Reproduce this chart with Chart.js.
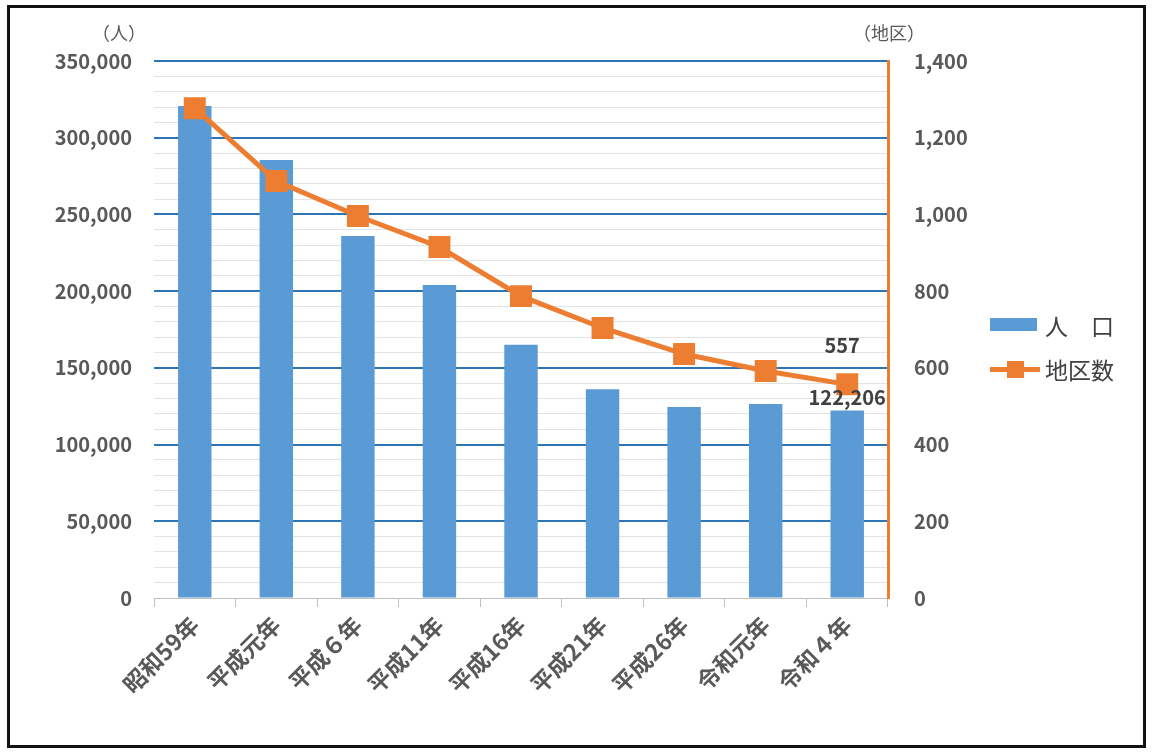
<!DOCTYPE html>
<html lang="ja">
<head>
<meta charset="utf-8">
<script src="https://cdn.jsdelivr.net/npm/chart.js@4"></script>
<style>
  html, body { margin: 0; padding: 0; background: #fff; }
  #wrap { position: relative; width: 1152px; height: 752px; }
  #frame { position: absolute; left: 7px; top: 5px; width: 1133px; height: 737px; border: 3px solid #111; pointer-events: none; }
  canvas { position: absolute; left: 0; top: 0; }
  .unit { position: absolute; font: 18px "Noto Sans CJK JP", sans-serif; color: #595959; }
  .legend { position: absolute; left: 990px; font: 23px "Noto Sans CJK JP", sans-serif; color: #404040; }
  .legend div { position: relative; height: 44px; line-height: 44px; padding-left: 55px; white-space: pre; }
  .sw-bar { position: absolute; left: 0; top: 15px; width: 47px; height: 13px; background: #5B9BD5; }
  .sw-line { position: absolute; left: 0; top: 20px; width: 50px; height: 5px; background: #ED7D31; }
  .sw-pt { position: absolute; left: 17px; top: 14px; width: 17px; height: 17px; background: #ED7D31; }
</style>
</head>
<body>
<div id="wrap">
  <canvas id="chart" width="1152" height="752"></canvas>
  <div class="unit" style="left:92px; top:19px;">（人）</div>
  <div class="unit" style="left:853px; top:19px;">（地区）</div>
  <div class="legend" style="top:303px;">
    <div><span class="sw-bar"></span>人　口</div>
    <div><span class="sw-line"></span><span class="sw-pt"></span>地区数</div>
  </div>
  <div id="frame"></div>
</div>
<script>
// categories and values
const years = ['昭和59年', '平成元年', '平成６年', '平成11年', '平成16年', '平成21年', '平成26年', '令和元年', '令和４年'];
const population = [320700, 285500, 236000, 204000, 165000, 136000, 124500, 126500, 122206];
const districts = [1277, 1087, 996, 915, 787, 704, 636, 592, 557];

const leftTicks = { min: 0, max: 350000, minor: 10000, major: 50000 };
const rightTicks = { min: 0, max: 1400, step: 200 };

const textColor = '#595959';
const fontFamily = '"Noto Sans CJK JP", sans-serif';
const tickFont = { family: fontFamily, size: 20, weight: 'bold' };

// value labels on the last point / last bar
const lastLabels = {
  id: 'lastLabels',
  afterDatasetsDraw(chart) {
    const ctx = chart.ctx;
    const last = years.length - 1;
    const bar = chart.getDatasetMeta(0).data[last];
    const pt = chart.getDatasetMeta(1).data[last];
    ctx.save();
    ctx.font = 'bold 20px ' + fontFamily;
    ctx.fillStyle = '#404040';
    ctx.textAlign = 'center';
    ctx.textBaseline = 'middle';
    ctx.fillText(districts[last].toString(), pt.x - 5, pt.y - 39);
    ctx.fillText(population[last].toLocaleString('en-US'), bar.x, bar.y - 13);
    ctx.restore();
  }
};

new Chart(document.getElementById('chart').getContext('2d'), {
  type: 'bar',
  data: {
    labels: years,
    datasets: [
      {
        label: '人　口',
        data: population,
        backgroundColor: '#5B9BD5',
        yAxisID: 'y',
        categoryPercentage: 1,
        barPercentage: 0.41,
        order: 2
      },
      {
        type: 'line',
        label: '地区数',
        data: districts,
        borderColor: '#ED7D31',
        borderWidth: 5,
        backgroundColor: '#ED7D31',
        pointStyle: 'rect',
        pointRadius: 12,
        pointHoverRadius: 12,
        yAxisID: 'y1',
        order: 1
      }
    ]
  },
  options: {
    responsive: false,
    animation: false,
    layout: { padding: { top: 61, right: 164, left: 0, bottom: 0 } },
    plugins: { legend: { display: false }, tooltip: { enabled: false } },
    scales: {
      x: {
        grid: { drawOnChartArea: false, color: '#BFBFBF', tickLength: 9, offset: true },
        border: { color: '#BFBFBF', width: 1 },
        ticks: { color: textColor, font: { family: fontFamily, size: 23, weight: 'bold' }, minRotation: 45, maxRotation: 45, padding: 4 },
        afterFit(scale) { scale.height = 154; }
      },
      y: {
        position: 'left',
        min: leftTicks.min,
        max: leftTicks.max,
        border: { display: false },
        grid: {
          drawTicks: false,
          color: c => c.tick.value === 0 ? '#BFBFBF' : (c.tick.value % leftTicks.major === 0 ? '#2E75B6' : '#E3E3E3'),
          lineWidth: c => c.tick.value === 0 ? 1 : (c.tick.value % leftTicks.major === 0 ? 2 : 1)
        },
        ticks: {
          stepSize: leftTicks.minor,
          autoSkip: false,
          color: textColor,
          font: tickFont,
          padding: 22,
          callback: v => v % leftTicks.major === 0 ? v.toLocaleString('en-US') : ''
        },
        afterFit(scale) { scale.width = 154; }
      },
      y1: {
        position: 'right',
        min: rightTicks.min,
        max: rightTicks.max,
        border: { color: '#ED7D31', width: 3 },
        grid: { drawOnChartArea: false, drawTicks: false },
        ticks: {
          stepSize: rightTicks.step,
          color: textColor,
          font: tickFont,
          padding: 26,
          callback: v => v.toLocaleString('en-US')
        },
        afterFit(scale) { scale.width = 100; }
      }
    }
  },
  plugins: [lastLabels]
});
</script>
</body>
</html>
